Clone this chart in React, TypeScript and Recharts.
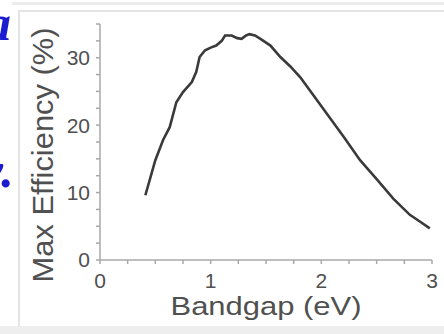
import { Label, Line, LineChart, XAxis, YAxis } from "recharts";

// Shockley–Queisser style curve.
const bandgap = [
  0.41, 0.5, 0.57, 0.63, 0.69, 0.75, 0.83, 0.87, 0.9, 0.95, 1.0, 1.05, 1.1, 1.13, 1.19, 1.24, 1.28, 1.32,
  1.35, 1.4, 1.45, 1.54, 1.63, 1.72, 1.81, 1.93, 2.05, 2.2, 2.35, 2.5, 2.65, 2.8, 2.9, 2.98,
];
const efficiency = [
  9.6, 14.8, 17.8, 19.7, 23.4, 24.9, 26.4, 27.9, 30.1, 31.1, 31.5, 31.8, 32.5, 33.3, 33.3, 32.9, 32.8, 33.3,
  33.5, 33.3, 32.8, 31.8, 30.1, 28.7, 27.1, 24.4, 21.7, 18.3, 14.8, 12.0, 9.1, 6.7, 5.6, 4.7,
];
const xTicks = [0, 0.25, 0.5, 0.75, 1, 1.25, 1.5, 1.75, 2, 2.25, 2.5, 2.75, 3];
const yTicks = [0, 2.5, 5, 7.5, 10, 12.5, 15, 17.5, 20, 22.5, 25, 27.5, 30, 32.5, 35];

const data = bandgap.map((x, i) => ({ x, y: efficiency[i] }));

const FONT = "'Liberation Sans', Arial, sans-serif";
const TEXT = "#505050";
const AXIS = "#a8a8a8";

const majorOnly = (step: number) => (v: number) => (Math.abs(v % step) < 1e-9 ? String(v) : "");

export default function App() {
  return (
    <div style={{ position: "absolute", left: 0, top: 0, width: 444, height: 334, background: "#fff", overflow: "hidden" }}>
      {/* bits of the slide around the picture */}
      <div style={{ position: "absolute", left: 12, top: 2, width: 432, height: 3, background: "#ececec" }} />
      <div
        style={{
          position: "absolute",
          left: 18,
          top: 10,
          width: 440,
          height: 318,
          border: "2px solid #e4e4e4",
          boxSizing: "border-box",
        }}
      />
      <div style={{ position: "absolute", left: 0, top: 326, width: 444, height: 8, background: "#eeeeee" }} />
      <div
        style={{
          position: "absolute",
          left: -14,
          top: -6,
          font: "italic bold 50px 'Liberation Serif', serif",
          color: "#1b1bd0",
        }}
      >
        a
      </div>
      <div
        style={{
          position: "absolute",
          left: -19,
          top: 141,
          font: "italic bold 50px 'Liberation Serif', serif",
          color: "#1b1bd0",
        }}
      >
        y.
      </div>

      <LineChart
        width={444}
        height={334}
        data={data}
        margin={{ top: 24, right: 12, bottom: 0, left: 0 }}
        style={{ position: "absolute", left: 0, top: 0 }}
      >
        <XAxis
          dataKey="x"
          type="number"
          domain={[0, 3]}
          ticks={xTicks}
          tickFormatter={majorOnly(1)}
          height={74}
          tickSize={4}
          tickMargin={9}
          interval={0}
          stroke={AXIS}
          strokeWidth={1.5}
          tick={{ fill: TEXT, fontSize: 21, fontFamily: FONT }}
        >
          <Label
            content={({ viewBox }: any) => (
              <text
                x={viewBox.x + viewBox.width / 2}
                y={viewBox.y + 55}
                textAnchor="middle"
                textLength={191}
                lengthAdjust="spacingAndGlyphs"
                fill={TEXT}
                fontSize={26}
                fontFamily={FONT}
              >
                Bandgap (eV)
              </text>
            )}
          />
        </XAxis>
        <YAxis
          type="number"
          domain={[0, 35]}
          ticks={yTicks}
          tickFormatter={majorOnly(10)}
          width={100}
          tickSize={4}
          tickMargin={6}
          interval={0}
          stroke={AXIS}
          strokeWidth={1.5}
          tick={{ fill: TEXT, fontSize: 21, fontFamily: FONT }}
        >
          <Label
            content={({ viewBox }: any) => {
              const cx = 53;
              const cy = viewBox.y + viewBox.height / 2 + 13;
              return (
                <text
                  x={cx}
                  y={cy}
                  transform={`rotate(-90 ${cx} ${cy})`}
                  textAnchor="middle"
                  textLength={255}
                  lengthAdjust="spacingAndGlyphs"
                  fill={TEXT}
                  fontSize={30}
                  fontFamily={FONT}
                >
                  Max Efficiency (%)
                </text>
              );
            }}
          />
        </YAxis>
        <Line
          dataKey="y"
          type="linear"
          stroke="#3a3a3a"
          strokeWidth={2.6}
          dot={false}
          isAnimationActive={false}
        />
      </LineChart>
    </div>
  );
}
